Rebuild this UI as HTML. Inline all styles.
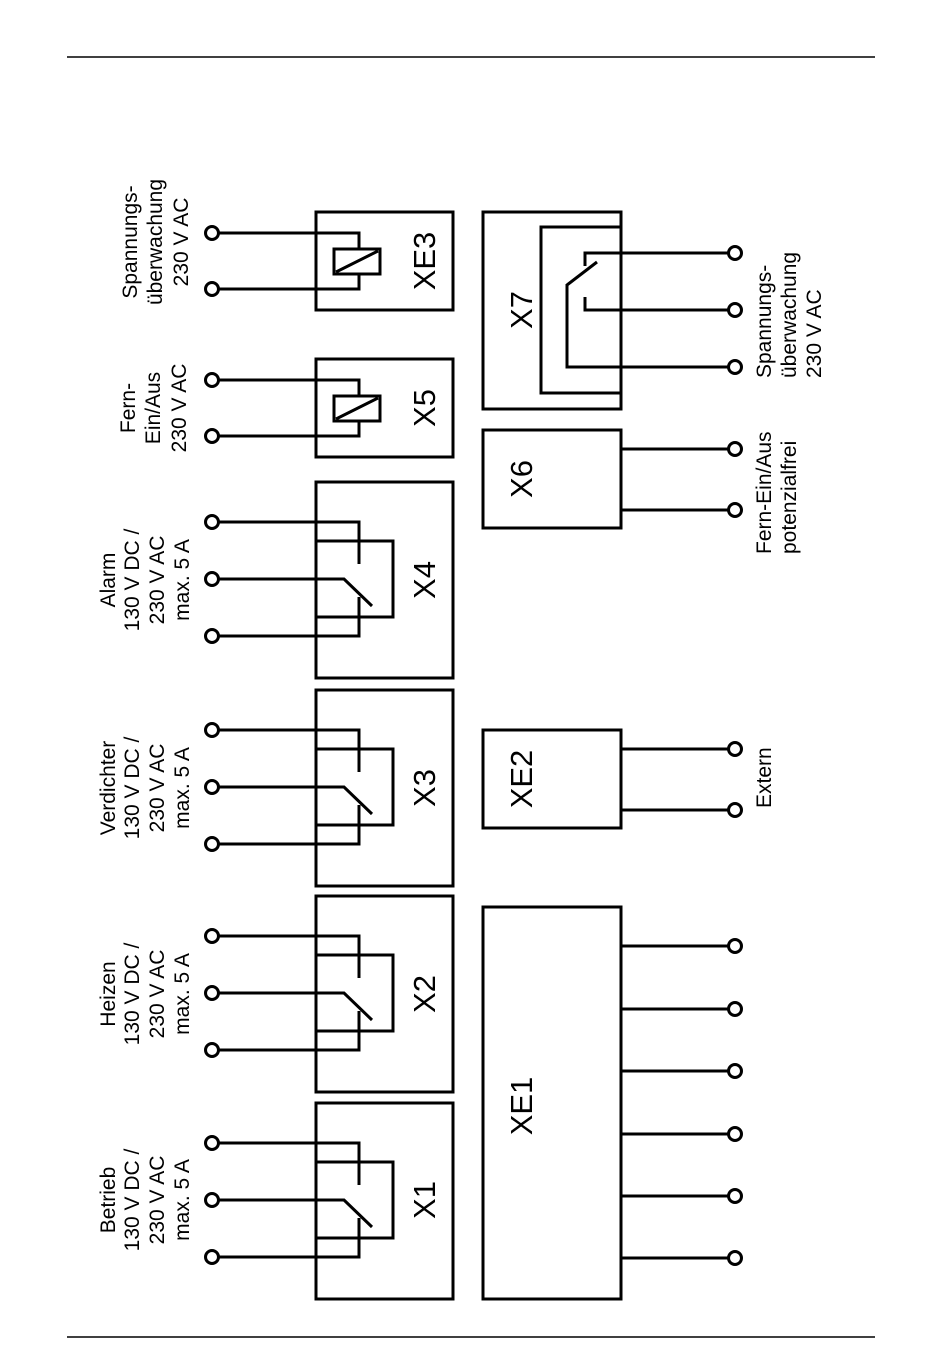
<!DOCTYPE html>
<html><head><meta charset="utf-8"><style>
html,body{margin:0;padding:0;background:#fff}
svg{display:block}
text{font-family:"Liberation Sans",Arial,sans-serif;font-size:21px;fill:#000}
.big{font-size:31px}
</style></head><body>
<svg width="950" height="1369" viewBox="0 0 950 1369" xmlns="http://www.w3.org/2000/svg">
<g stroke="#000" fill="none" stroke-width="1.5">
<line x1="67" y1="57" x2="875" y2="57"/>
<line x1="67" y1="1337" x2="875" y2="1337"/>
</g>
<defs>
<g id="relay">
 <rect x="316" y="0" width="137" height="196"/>
 <polyline points="218,40 359,40 359,82"/>
 <polyline points="316,59 393,59 393,135 316,135"/>
 <polyline points="218,97 344,97 372,124"/>
 <polyline points="218,154 359,154 359,115"/>
 <circle cx="212" cy="40" r="6.5"/>
 <circle cx="212" cy="97" r="6.5"/>
 <circle cx="212" cy="154" r="6.5"/>
</g>
<g id="coil">
 <rect x="316" y="0" width="137" height="98"/>
 <polyline points="218,21 359,21 359,37"/>
 <polyline points="218,77 359,77 359,62"/>
 <rect x="334" y="37" width="46" height="25"/>
 <line x1="336" y1="60" x2="378" y2="39"/>
 <circle cx="212" cy="21" r="6.5"/>
 <circle cx="212" cy="77" r="6.5"/>
</g>
</defs>
<g stroke="#000" fill="none" stroke-width="3">
 <use href="#relay" y="1103"/>
 <use href="#relay" y="896"/>
 <use href="#relay" y="690"/>
 <use href="#relay" y="482"/>
 <use href="#coil" y="212"/>
 <use href="#coil" y="359"/>
 <rect x="483" y="212" width="138" height="197"/>
 <polyline points="621,227 541,227 541,393 621,393"/>
 <polyline points="729,253 585,253 585,266"/>
 <line x1="597" y1="262" x2="567" y2="285"/>
 <polyline points="567,284 567,367 729,367"/>
 <polyline points="585,297 585,310 729,310"/>
 <circle cx="735" cy="253" r="6.5"/>
 <circle cx="735" cy="310" r="6.5"/>
 <circle cx="735" cy="367" r="6.5"/>
 <rect x="483" y="430" width="138" height="98"/>
 <line x1="621" y1="449" x2="729" y2="449"/>
 <line x1="621" y1="510" x2="729" y2="510"/>
 <circle cx="735" cy="449" r="6.5"/>
 <circle cx="735" cy="510" r="6.5"/>
 <rect x="483" y="730" width="138" height="98"/>
 <line x1="621" y1="749" x2="729" y2="749"/>
 <line x1="621" y1="810" x2="729" y2="810"/>
 <circle cx="735" cy="749" r="6.5"/>
 <circle cx="735" cy="810" r="6.5"/>
 <rect x="483" y="907" width="138" height="392"/>
 <line x1="621" y1="946" x2="729" y2="946"/><circle cx="735" cy="946" r="6.5"/>
 <line x1="621" y1="1009" x2="729" y2="1009"/><circle cx="735" cy="1009" r="6.5"/>
 <line x1="621" y1="1071" x2="729" y2="1071"/><circle cx="735" cy="1071" r="6.5"/>
 <line x1="621" y1="1134" x2="729" y2="1134"/><circle cx="735" cy="1134" r="6.5"/>
 <line x1="621" y1="1196" x2="729" y2="1196"/><circle cx="735" cy="1196" r="6.5"/>
 <line x1="621" y1="1258" x2="729" y2="1258"/><circle cx="735" cy="1258" r="6.5"/>
</g>
<g class="big" text-anchor="middle">
 <text class="big" transform="translate(435,1200) rotate(-90)">X1</text>
 <text class="big" transform="translate(435,994) rotate(-90)">X2</text>
 <text class="big" transform="translate(435,788) rotate(-90)">X3</text>
 <text class="big" transform="translate(435,580) rotate(-90)">X4</text>
 <text class="big" transform="translate(435,408) rotate(-90)">X5</text>
 <text class="big" transform="translate(435,261) rotate(-90)">XE3</text>
 <text class="big" transform="translate(532,310) rotate(-90)">X7</text>
 <text class="big" transform="translate(532,479) rotate(-90)">X6</text>
 <text class="big" transform="translate(532,779) rotate(-90)">XE2</text>
 <text class="big" transform="translate(532,1106) rotate(-90)">XE1</text>
</g>
<g text-anchor="middle">
 <g transform="translate(0,1200)">
  <text transform="translate(115,0) rotate(-90)">Betrieb</text>
  <text transform="translate(139,0) rotate(-90)">130 V DC /</text>
  <text transform="translate(164,0) rotate(-90)">230 V AC</text>
  <text transform="translate(189,0) rotate(-90)">max. 5 A</text>
 </g>
 <g transform="translate(0,994)">
  <text transform="translate(115,0) rotate(-90)">Heizen</text>
  <text transform="translate(139,0) rotate(-90)">130 V DC /</text>
  <text transform="translate(164,0) rotate(-90)">230 V AC</text>
  <text transform="translate(189,0) rotate(-90)">max. 5 A</text>
 </g>
 <g transform="translate(0,788)">
  <text transform="translate(115,0) rotate(-90)">Verdichter</text>
  <text transform="translate(139,0) rotate(-90)">130 V DC /</text>
  <text transform="translate(164,0) rotate(-90)">230 V AC</text>
  <text transform="translate(189,0) rotate(-90)">max. 5 A</text>
 </g>
 <g transform="translate(0,580)">
  <text transform="translate(115,0) rotate(-90)">Alarm</text>
  <text transform="translate(139,0) rotate(-90)">130 V DC /</text>
  <text transform="translate(164,0) rotate(-90)">230 V AC</text>
  <text transform="translate(189,0) rotate(-90)">max. 5 A</text>
 </g>
 <g transform="translate(0,408)">
  <text transform="translate(135,0) rotate(-90)">Fern-</text>
  <text transform="translate(160,0) rotate(-90)">Ein/Aus</text>
  <text transform="translate(186,0) rotate(-90)">230 V AC</text>
 </g>
 <g transform="translate(0,242)">
  <text transform="translate(137,0) rotate(-90)">Spannungs-</text>
  <text transform="translate(162,0) rotate(-90)">überwachung</text>
  <text transform="translate(188,0) rotate(-90)">230 V AC</text>
 </g>
</g>
<g text-anchor="start">
 <text transform="translate(771,378) rotate(-90)">Spannungs-</text>
 <text transform="translate(796,378) rotate(-90)">überwachung</text>
 <text transform="translate(821,378) rotate(-90)">230 V AC</text>
 <text transform="translate(771,554) rotate(-90)">Fern-Ein/Aus</text>
 <text transform="translate(796,554) rotate(-90)">potenzialfrei</text>
 <text transform="translate(771,808) rotate(-90)">Extern</text>
</g>
</svg>
</body></html>
